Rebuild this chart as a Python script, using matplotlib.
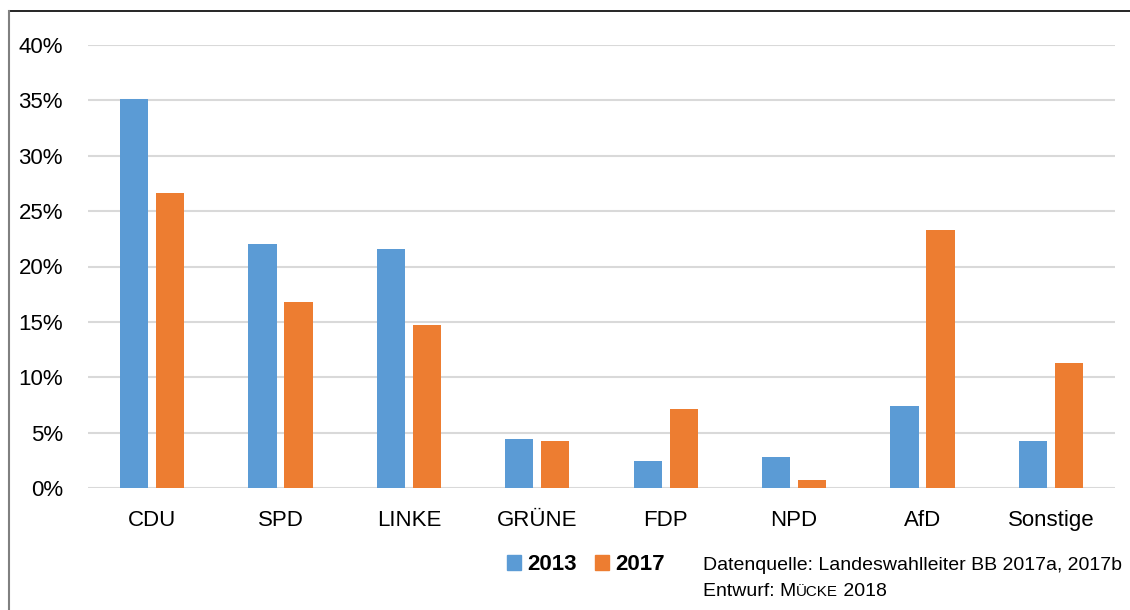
import matplotlib
matplotlib.use("Agg")
import matplotlib.pyplot as plt
from matplotlib.lines import Line2D
from matplotlib.patches import Patch
import numpy as np

# Data (in percent)
parties = ["CDU", "SPD", "LINKE", "GRÜNE", "FDP", "NPD", "AfD", "Sonstige"]
share_2013 = [35.1, 22.0, 21.6, 4.4, 2.4, 2.8, 7.4, 4.2]
share_2017 = [26.6, 16.8, 14.7, 4.2, 7.1, 0.7, 23.3, 11.3]
y_ticks = [0, 5, 10, 15, 20, 25, 30, 35, 40]

blue = "#5B9BD5"
orange = "#ED7D31"

plt.rcParams["font.family"] = ["Liberation Sans", "DejaVu Sans"]

W, H = 1130, 610
fig = plt.figure(figsize=(W / 100, H / 100), dpi=100)
ax = fig.add_axes([88 / W, 1 - 488 / H, (1115 - 88) / W, (488 - 45) / H])

x = np.arange(len(parties))
bw = 0.22
off = 0.14
ax.bar(x - off, share_2013, width=bw, color=blue, zorder=3)
ax.bar(x + off, share_2017, width=bw, color=orange, zorder=3)

ax.set_xlim(-0.5, len(parties) - 0.5)
ax.set_ylim(0, 40)
ax.set_yticks(y_ticks)
ax.set_yticklabels([f"{t}%" for t in y_ticks])
ax.set_xticks(x)
ax.set_xticklabels(parties)
ax.tick_params(axis="both", length=0, labelsize=16, colors="#000000")
ax.tick_params(axis="y", pad=18)
ax.tick_params(axis="x", pad=16)
ax.yaxis.grid(True, color="#D9D9D9", linewidth=1.5, zorder=0)
ax.set_axisbelow(True)
for s in ax.spines.values():
    s.set_visible(False)

# legend
handles = [Patch(color=blue, label="2013"), Patch(color=orange, label="2017")]
fig.legend(handles=handles, loc="center left", bbox_to_anchor=(507 / W, 1 - 565 / H),
           ncol=2, frameon=False, prop={"weight": "bold", "size": 16},
           handlelength=0.62, handleheight=0.62, handletextpad=0.3,
           columnspacing=0.8, borderpad=0, borderaxespad=0)

# source notes
fs = 14
fig.text(703 / W, 1 - 570 / H, "Datenquelle: Landeswahlleiter BB 2017a, 2017b",
         fontsize=fs, va="baseline", ha="left")
yb = 1 - 596 / H
t1 = fig.text(703 / W, yb, "Entwurf: M", fontsize=fs, va="baseline", ha="left")
fig.canvas.draw()
r = fig.canvas.get_renderer()
x1 = t1.get_window_extent(r).x1 / W
t2 = fig.text(x1, yb, "ÜCKE", fontsize=fs * 0.78, va="baseline", ha="left")
fig.canvas.draw()
x2 = t2.get_window_extent(r).x1 / W
fig.text(x2, yb, " 2018", fontsize=fs, va="baseline", ha="left")

# frame lines around the figure
fig.add_artist(Line2D([9 / W, 1], [1 - 11 / H, 1 - 11 / H], color="black", linewidth=1.2))
fig.add_artist(Line2D([9 / W, 9 / W], [0, 1 - 11 / H], color="#808080", linewidth=1.5))

fig.savefig("out.png", dpi=100)
